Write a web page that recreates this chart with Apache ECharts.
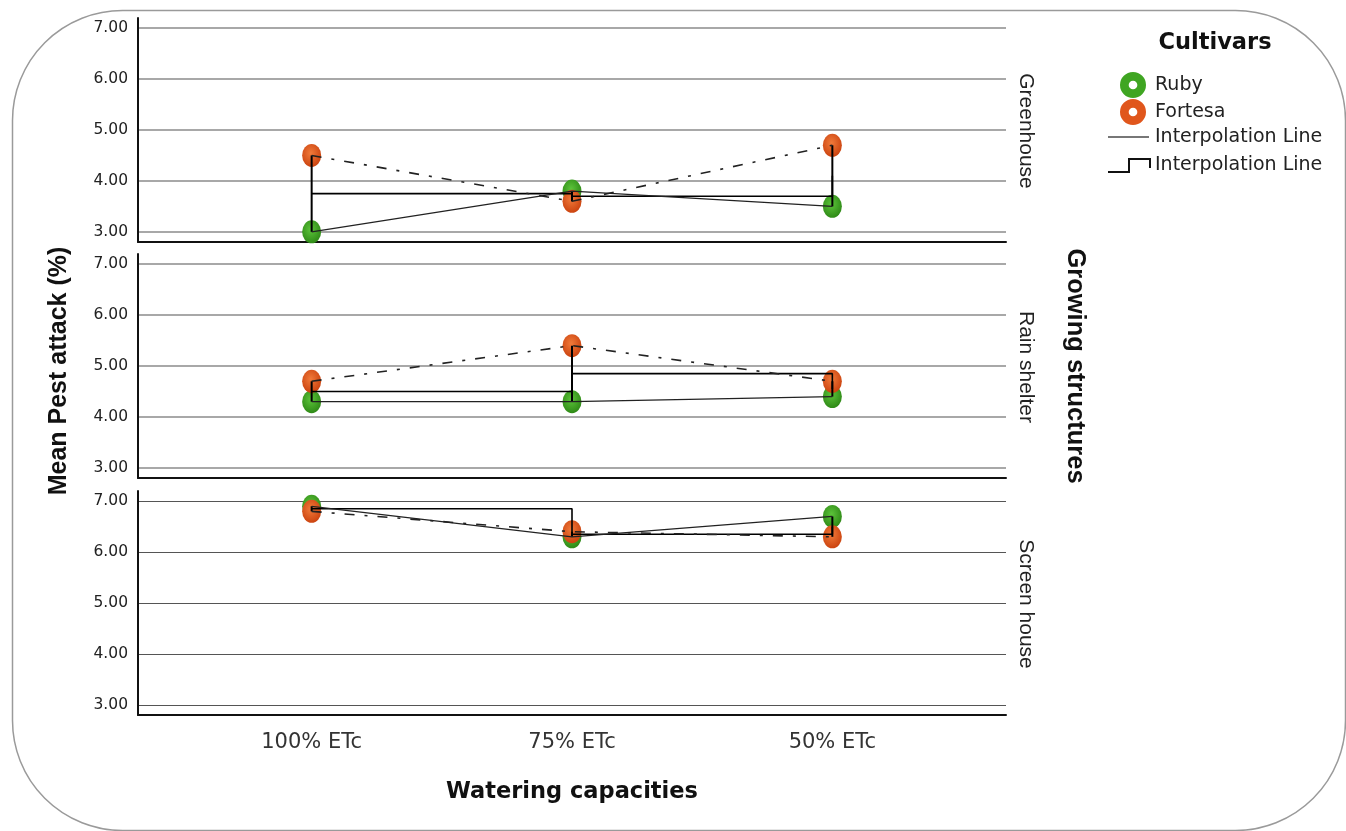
<!DOCTYPE html>
<html><head><meta charset="utf-8">
<script src="https://cdn.jsdelivr.net/npm/echarts@6/dist/echarts.min.js"></script>
<style>html,body{margin:0;padding:0;background:#fff}#c{width:1346px;height:831px}</style>
</head><body><div id="c"></div>
<script>
const categories = ['100% ETc', '75% ETc', '50% ETc'];
const panels = ['Greenhouse', 'Rain shelter', 'Screen house'];
const ruby = [[3.0, 3.8, 3.5], [4.3, 4.3, 4.4], [6.9, 6.3, 6.7]];
const fortesa = [[4.5, 3.6, 4.7], [4.7, 5.4, 4.7], [6.8, 6.4, 6.3]];
const yTicks = [3, 4, 5, 6, 7];

const chart = echarts.init(document.getElementById('c'));
const FONT = 'Liberation Sans';
const WFONT = 'DejaVu Sans';
const gridTops = [18, 254, 491];
const gridH = 224;
const grids = [], xAxes = [], yAxes = [], series = [];

function grad(light, dark) {
  return new echarts.graphic.RadialGradient(0.45, 0.4, 0.6, [
    {offset: 0, color: light}, {offset: 1, color: dark}]);
}
const rubyColor = grad('#5cc43a', '#2f8a17');
const fortColor = grad('#f07a3a', '#cc4410');

panels.forEach((p, i) => {
  grids.push({left: 138, top: gridTops[i], width: 868, height: gridH});
  const bottom = i === panels.length - 1;
  xAxes.push({
    type: 'value', gridIndex: i, min: -0.667, max: 2.667,
    axisLine: {show: true, onZero: false, lineStyle: {color: '#111', width: 2}},
    axisTick: {show: false},
    splitLine: {show: false},
    axisLabel: {show: bottom, customValues: [0, 1, 2], formatter: v => categories[Math.round(v)],
      fontFamily: WFONT, fontSize: 21, color: '#333', margin: 17}
  });
  yAxes.push({
    type: 'value', gridIndex: i, min: 2.8, max: 7.2,
    axisLine: {show: true, onZero: false, lineStyle: {color: '#111', width: 2}},
    axisTick: {show: false, customValues: yTicks},
    axisLabel: {customValues: yTicks, formatter: v => v.toFixed(2), fontFamily: WFONT, fontSize: 15.5, color: '#222', margin: 10},
    splitLine: {show: true, lineStyle: {color: bottom ? '#555' : '#a8a8a8', width: bottom ? 1.2 : 2}}
  });
  const means = ruby[i].map((r, k) => (r + fortesa[i][k]) / 2);
  // drop lines between cultivars
  series.push({
    type: 'custom', xAxisIndex: i, yAxisIndex: i, z: 4,
    data: ruby[i].map((r, k) => [k, r, fortesa[i][k]]),
    renderItem: (params, api) => {
      const a = api.coord([api.value(0), api.value(1)]);
      const b = api.coord([api.value(0), api.value(2)]);
      return {type: 'line', shape: {x1: a[0], y1: a[1], x2: b[0], y2: b[1]}, style: {stroke: '#000', lineWidth: 2}};
    }
  });
  // step interpolation line of means
  series.push({
    type: 'line', step: 'end', xAxisIndex: i, yAxisIndex: i, z: 4, showSymbol: false, silent: true,
    data: means.map((m, k) => [k, m]), lineStyle: {color: '#000', width: 1.6}
  });
  // cultivar lines
  series.push({
    type: 'line', xAxisIndex: i, yAxisIndex: i, z: 4, showSymbol: false, silent: true,
    data: ruby[i].map((v, k) => [k, v]), lineStyle: {color: '#222', width: 1.3}
  });
  series.push({
    type: 'line', xAxisIndex: i, yAxisIndex: i, z: 4, showSymbol: false, silent: true,
    data: fortesa[i].map((v, k) => [k, v]), lineStyle: {color: '#222', width: 1.6, type: [10, 10, 3, 10]}
  });
  // markers
  series.push({
    name: 'Ruby', type: 'scatter', xAxisIndex: i, yAxisIndex: i, z: 3,
    symbol: 'circle', symbolSize: [19, 23],
    data: ruby[i].map((v, k) => [k, v]), itemStyle: {color: rubyColor, opacity: 1}
  });
  series.push({
    name: 'Fortesa', type: 'scatter', xAxisIndex: i, yAxisIndex: i, z: 3,
    symbol: 'circle', symbolSize: [19, 23],
    data: fortesa[i].map((v, k) => [k, v]), itemStyle: {color: fortColor, opacity: 1}
  });
});

const ring = 'path://M12,0 A12,12 0 1,1 11.99,0 Z M12,8 A4,4 0 1,0 12.01,8 Z';

function txt(x, y, text, size, weight, family, rot, align) {
  return {type: 'text', x: x, y: y, rotation: rot || 0,
    style: {text: text, fontSize: size, fontWeight: weight, fontFamily: family, fill: '#111',
      textAlign: align || 'center', textVerticalAlign: 'middle'}};
}

const graphics = [
  {type: 'rect', left: 10, top: 8, shape: {width: 1333, height: 820, r: 110}, style: {fill: 'none', stroke: '#9a9a9a', lineWidth: 1.5}, z: -1},
  txt(59, 371, 'Mean Pest attack (%)', 25, 'bold', FONT, Math.PI / 2),
  txt(1075, 366, 'Growing structures', 25.5, 'bold', FONT, -Math.PI / 2),
  txt(572, 792, 'Watering capacities', 22.5, 'bold', WFONT),
  txt(1215, 43, 'Cultivars', 22.5, 'bold', WFONT),
  {type: 'line', shape: {x1: 1108, y1: 137, x2: 1149, y2: 137}, style: {stroke: '#777', lineWidth: 2}},
  txt(1155, 137, 'Interpolation Line', 19, 'normal', WFONT, 0, 'left'),
  {type: 'polyline', shape: {points: [[1108, 172], [1129, 172], [1129, 159], [1150, 159], [1150, 168]]}, style: {stroke: '#111', lineWidth: 2, fill: 'none'}},
  txt(1155, 165, 'Interpolation Line', 19, 'normal', WFONT, 0, 'left')
];
graphics[6].style.fill = '#222';
graphics[8].style.fill = '#222';
panels.forEach((p, i) => {
  const t = txt(1026, gridTops[i] + gridH / 2 + 1, p, 21, 'normal', FONT, -Math.PI / 2);
  t.style.fill = '#222';
  graphics.push(t);
});

chart.setOption({
  animation: false,
  backgroundColor: '#fff',
  grid: grids, xAxis: xAxes, yAxis: yAxes, series: series,
  legend: {
    data: [{name: 'Ruby', icon: ring, itemStyle: {color: '#3fa522'}}, {name: 'Fortesa', icon: ring, itemStyle: {color: '#e0561c'}}],
    orient: 'vertical', left: 1115, top: 67, itemWidth: 26, itemHeight: 26, itemGap: 1,
    textStyle: {fontFamily: WFONT, fontSize: 19, color: '#222', padding: [0, 0, 0, 4]}, selectedMode: false
  },
  graphic: graphics
});
</script></body></html>
